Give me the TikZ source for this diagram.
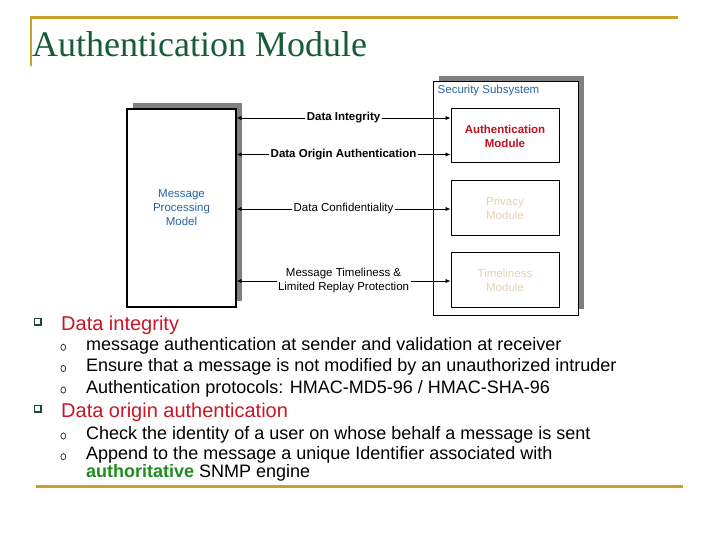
\documentclass[tikz,border=0pt]{standalone}
\usepackage{fontspec}
\setmainfont{Liberation Sans}
\newfontfamily\titlefont{Liberation Serif}
\usetikzlibrary{arrows.meta,shadows,shapes.geometric}
\definecolor{gold}{RGB}{200,160,42}
\definecolor{titlegreen}{RGB}{22,92,58}
\definecolor{headred}{RGB}{200,22,40}
\definecolor{bulletgreen}{RGB}{28,72,52}
\definecolor{diagblue}{RGB}{40,100,160}
\definecolor{authred}{RGB}{190,18,30}
\definecolor{beige}{RGB}{228,210,180}
\definecolor{authgreen}{RGB}{30,140,30}
\definecolor{shadowgray}{RGB}{128,128,128}
\newcommand\dfont{\fontsize{11.5bp}{14bp}\selectfont}
\newcommand\hfont{\fontsize{20bp}{24bp}\selectfont}
\newcommand\ifont{\fontsize{18bp}{21bp}\selectfont}
\begin{document}
\begin{tikzpicture}[x=1bp,y=-1bp,
  shadowbox/.style={draw=black, line width=1.2bp, fill=white, inner sep=0, align=center,
    drop shadow={shadow xshift=6bp, shadow yshift=6bp, opacity=1, fill=shadowgray}},
  module/.style={draw=black, line width=1bp, fill=white, minimum width=108bp,
    minimum height=54bp, inner sep=0, align=center, font=\dfont},
  conn/.style={line width=0.9bp, {Latex[length=5bp,width=4.5bp]}-{Latex[length=5bp,width=4.5bp]}},
  lbl/.style={fill=white, inner sep=1.5bp, font=\dfont, align=center},
  goldline/.style={draw=gold, line width=2.6bp},
  head/.style={anchor=base west, inner sep=0, text=headred, font=\hfont},
  item/.style={anchor=base west, inner sep=0, text=black, font=\ifont},
  sqbullet/.style={fill=bulletgreen, rectangle, minimum size=8bp, inner sep=0,
    path picture={\fill[white] ([shift={(1.4bp,-1.4bp)}]path picture bounding box.north west)
      rectangle ([shift={(-2.4bp,2.4bp)}]path picture bounding box.south east);}},
  obullet/.style={draw=bulletgreen, line width=0.8bp, ellipse, minimum width=4.8bp, minimum height=6.2bp, inner sep=0}
]
\useasboundingbox (0,0) rectangle (720,540);
\fill[white] (0,0) rectangle (720,540);

% frame lines
\draw[goldline] (30,17.5) -- (678,17.5);
\draw[goldline] (31,16.5) -- (31,66);
\draw[goldline] (36,486.3) -- (683,486.3);

% title
\node[anchor=base west, inner sep=0, text=titlegreen, font=\titlefont\fontsize{36bp}{40bp}\selectfont]
  (title) at (32,57) {Authentication Module};

% diagram
\node[shadowbox, minimum width=109bp, minimum height=198bp, text=diagblue, font=\dfont]
  (mpm) at (181.5,208) {Message\\Processing\\Model};
\node[shadowbox, line width=1bp, minimum width=145bp, minimum height=233bp]
  (sec) at (505.5,198.5) {};
\node[anchor=west, inner sep=0, text=diagblue, font=\dfont] (seclbl) at (437.5,91) {Security Subsystem};
\node[module, text=authred, font=\dfont\bfseries] (auth) at (505,136) {Authentication\\Module};
\node[module, text=beige, minimum height=55bp] (priv) at (505,208.5) {Privacy\\Module};
\node[module, text=beige] (time) at (505,280) {Timeliness\\Module};

\draw[conn] (mpm.east |- 0,118) -- node[lbl, font=\dfont\bfseries]{Data Integrity} (auth.west |- 0,118);
\draw[conn] (mpm.east |- 0,154.5) -- node[lbl, font=\dfont\bfseries]{Data Origin Authentication} (auth.west |- 0,154.5);
\draw[conn] (mpm.east |- 0,209) -- node[lbl]{Data Confidentiality} (priv.west |- 0,209);
\draw[conn] (mpm.east |- 0,281) -- node[lbl]{Message Timeliness \&\\Limited Replay Protection} (time.west |- 0,281);

% bullets
\node[sqbullet] (b1) at (38,322) {};
\node[head] (h1) at (61,330) {Data integrity};
\node[obullet] (o1) at (63.3,347.3) {};
\node[item] (t1) at (86,350.3) {message authentication at sender and validation at receiver};
\node[obullet] (o2) at (63.3,368.5) {};
\node[item] (t2) at (86,371.5) {Ensure that a message is not modified by an unauthorized intruder};
\node[obullet] (o3) at (63.3,390) {};
\node[item] (t3) at (86,393) {Authentication protocols: HMAC-MD5-96 / HMAC-SHA-96};

\node[sqbullet] (b2) at (38,409) {};
\node[head] (h2) at (61,417) {Data origin authentication};
\node[obullet] (o4) at (63.3,436) {};
\node[item] (t4) at (86,439) {Check the identity of a user on whose behalf a message is sent};
\node[obullet] (o5) at (63.3,456.7) {};
\node[item] (t5) at (86,459.7) {Append to the message a unique Identifier associated with};
\node[item] (t6) at (86,477.5) {{\bfseries\color{authgreen}authoritative} SNMP engine};
\end{tikzpicture}
\end{document}
